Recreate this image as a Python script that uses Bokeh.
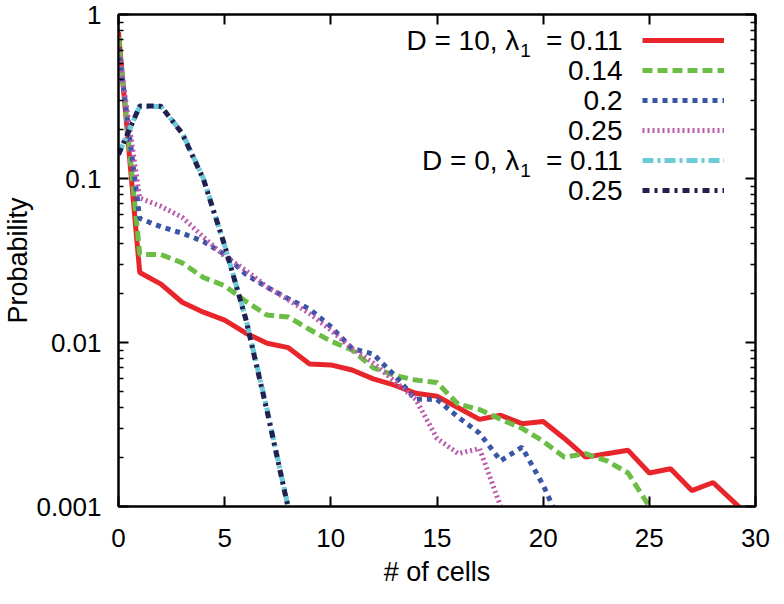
from bokeh.plotting import figure
from bokeh.models import (Range1d, LinearAxis, LogAxis, FixedTicker, CustomJSTickFormatter,
                          Legend, LegendItem, Label)
from bokeh.embed import file_html
from bokeh.resources import INLINE

# ---- data ----
cells = list(range(31))
p_d10_011 = [0.78, 0.0267, 0.0227, 0.0176, 0.0153, 0.0137, 0.0114, 0.0099, 0.0093, 0.0074,
             0.0073, 0.0068, 0.0060, 0.0055, 0.0049, 0.0047, 0.0040, 0.0034, 0.0036, 0.0032,
             0.0033, 0.0026, 0.0020, 0.0021, 0.0022, 0.0016, 0.0017, 0.00125, 0.0014, 0.00106, 0.0008]
p_d10_014 = [0.73, 0.0344, 0.0344, 0.0306, 0.0249, 0.0222, 0.0178, 0.0147, 0.0143, 0.0120,
             0.0102, 0.0090, 0.0070, 0.0063, 0.0059, 0.0057, 0.0042, 0.0039, 0.0034, 0.0030,
             0.0025, 0.0020, 0.0021, 0.0019, 0.0016, 0.00100, 0.0006]
p_d10_020 = [0.63, 0.057, 0.0508, 0.0464, 0.0413, 0.0344, 0.026, 0.0217, 0.0185, 0.016,
             0.0125, 0.0092, 0.0085, 0.0063, 0.0045, 0.0045, 0.0035, 0.0028, 0.0019, 0.0023,
             0.00135, 0.0007]
p_d10_025 = [0.60, 0.076, 0.0676, 0.058, 0.044, 0.0336, 0.0275, 0.0218, 0.0182, 0.0150,
             0.0119, 0.0092, 0.0075, 0.0058, 0.0045, 0.0026, 0.0021, 0.00226, 0.00100, 0.0004]
p_d0_011 = [0.14, 0.275, 0.275, 0.19, 0.10, 0.039, 0.014, 0.0039, 0.00098, 0.0002]
p_d0_025 = [0.14, 0.277, 0.276, 0.188, 0.099, 0.039, 0.0138, 0.0038, 0.00097, 0.0002]

# key texts: (main text, subscript, tail)
key_texts = [("D = 10, λ", "1", "= 0.11"), ("", "", "0.14"), ("", "", "0.2"),
             ("", "", "0.25"), ("D = 0, λ", "1", "= 0.11"), ("", "", "0.25")]
x_ticks = [0, 5, 10, 15, 20, 25, 30]
y_ticks = [0.001, 0.01, 0.1, 1]

series = [p_d10_011, p_d10_014, p_d10_020, p_d10_025, p_d0_011, p_d0_025]
colors = ["#e8252a", "#6cbd45", "#3a56a5", "#bb5aad", "#6ccbd9", "#222050"]
dashes = ["solid", "10 5", "5 5", "2 3", "11 4 3 4", "7 5 3 5"]

FONT = "Liberation Sans"
W, H = 772, 596
B_LEFT, B_RIGHT, B_TOP, B_BOTTOM = 115, 17, 14, 90
FRAME_H = H - B_TOP - B_BOTTOM

p = figure(width=W, height=H, x_range=Range1d(0, 30), y_range=Range1d(0.001, 1),
           y_axis_type="log", output_backend="svg", toolbar_location=None,
           min_border_left=B_LEFT, min_border_right=B_RIGHT, min_border_top=B_TOP,
           min_border_bottom=B_BOTTOM)
p.grid.visible = False
p.outline_line_color = "black"
p.outline_line_width = 2
p.background_fill_color = "white"
p.border_fill_color = "white"

y_minor = [m * 10.0 ** e for e in (-3, -2, -1) for m in range(2, 10)]
xticker = FixedTicker(ticks=x_ticks, minor_ticks=[])
yticker = FixedTicker(ticks=y_ticks, minor_ticks=y_minor)


def style(ax):
    ax.major_tick_in = 10
    ax.major_tick_out = 0
    ax.minor_tick_in = 5
    ax.minor_tick_out = 0
    ax.axis_line_width = 2
    ax.axis_line_color = "black"
    ax.major_tick_line_width = 2
    ax.minor_tick_line_width = 1.5
    ax.major_tick_line_color = "black"
    ax.minor_tick_line_color = "black"
    ax.major_label_text_font = FONT
    ax.major_label_text_font_size = "26px"
    ax.major_label_text_color = "black"
    ax.axis_label_text_font = FONT
    ax.axis_label_text_font_size = "27px"
    ax.axis_label_text_font_style = "normal"
    ax.axis_label_text_color = "black"


xa = p.xaxis[0]
xa.ticker = xticker
style(xa)
xa.major_label_standoff = 22
xa.axis_label = "# of cells"
xa.axis_label_standoff = 7

ya = p.yaxis[0]
ya.ticker = yticker
style(ya)
ya.formatter = CustomJSTickFormatter(code="return tick.toString();")
ya.major_label_standoff = 17
ya.axis_label = "Probability"
ya.axis_label_standoff = 0

blank = CustomJSTickFormatter(code="return '';")
top = LinearAxis(ticker=xticker, formatter=blank)
style(top)
top.major_label_text_font_size = "1px"
top.major_label_standoff = 0
p.add_layout(top, "above")

right = LogAxis(ticker=yticker, formatter=blank)
style(right)
right.major_label_text_font_size = "1px"
right.major_label_standoff = 0
p.add_layout(right, "right")

renderers = []
for ys, c, d in zip(series, colors, dashes):
    r = p.line(cells[:len(ys)], ys, line_color=c, line_width=5, line_dash=d)
    renderers.append(r)

# gnuplot-style key: right-aligned text, line sample to its right
row_h = 30
first_c = 26  # first row centre, px below frame top
leg = Legend(items=[LegendItem(label=" ", renderers=[r]) for r in renderers],
             location=(524, FRAME_H - (first_c - row_h // 2) - 6 * row_h),
             glyph_width=82, glyph_height=row_h, spacing=0,
             padding=0, margin=0, label_standoff=0,
             label_text_font_size="10px", background_fill_alpha=0, border_line_alpha=0)
p.add_layout(leg)

FS = 28
SUB = 19
# Liberation Sans (Arial metrics) advance widths, em units
ADV = {" ": 0.278, "=": 0.584, "0": 0.556, "1": 0.556, ".": 0.278}


def width(s, fs):
    return sum(ADV.get(ch, 0.556) for ch in s) * fs


RIGHT = 504
for i, (main, sub, tail) in enumerate(key_texts):
    yc = FRAME_H - first_c - i * row_h
    p.add_layout(Label(x=RIGHT, y=yc, x_units="screen", y_units="screen",
                       text=tail, text_align="right", text_baseline="middle",
                       text_font=FONT, text_font_size=f"{FS}px", text_color="black"))
    if sub:
        sub_right = RIGHT - width(tail, FS) - 13
        p.add_layout(Label(x=sub_right, y=yc - 10, x_units="screen", y_units="screen",
                           text=sub, text_align="right", text_baseline="middle",
                           text_font=FONT, text_font_size=f"{SUB}px", text_color="black"))
        main_right = sub_right - width(sub, SUB) - 1
        p.add_layout(Label(x=main_right, y=yc, x_units="screen", y_units="screen",
                           text=main, text_align="right", text_baseline="middle",
                           text_font=FONT, text_font_size=f"{FS}px", text_color="black"))

open("out.html", "w").write(file_html(p, INLINE))
